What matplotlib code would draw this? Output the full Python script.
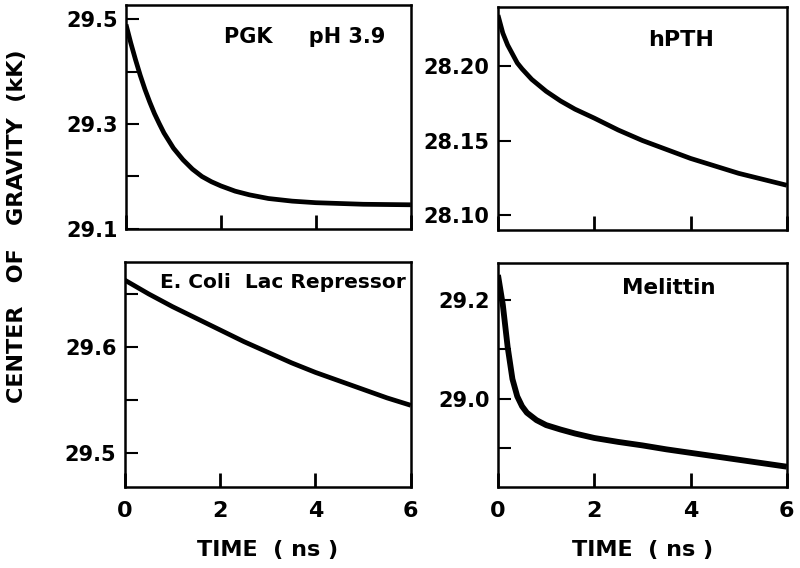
import matplotlib
matplotlib.use("Agg")
from matplotlib import pyplot as plt
from matplotlib.ticker import FixedLocator, NullFormatter, FormatStrFormatter

# PGK pH 3.9
t_pgk = [0, 0.1, 0.2, 0.3, 0.4, 0.5, 0.6, 0.7, 0.8, 1.0, 1.2, 1.4, 1.6, 1.8, 2.0,
         2.3, 2.6, 3.0, 3.5, 4.0, 5.0, 6.0]
cg_pgk = [29.49, 29.455, 29.423, 29.393, 29.366, 29.342, 29.320, 29.301, 29.283, 29.254,
          29.232, 29.214, 29.200, 29.190, 29.182, 29.172, 29.165, 29.158, 29.153, 29.150,
          29.147, 29.146]

# hPTH
t_hpth = [0, 0.1, 0.2, 0.3, 0.4, 0.5, 0.7, 1.0, 1.3, 1.6, 2.0, 2.5, 3.0, 3.5, 4.0,
          4.5, 5.0, 5.5, 6.0]
cg_hpth = [28.234, 28.222, 28.214, 28.208, 28.202, 28.198, 28.191, 28.183, 28.1765, 28.171,
           28.165, 28.157, 28.150, 28.144, 28.138, 28.133, 28.128, 28.124, 28.120]

# E. Coli Lac Repressor
t_lac = [0, 0.5, 1, 1.5, 2, 2.5, 3, 3.5, 4, 4.5, 5, 5.5, 6]
cg_lac = [29.663, 29.650, 29.638, 29.627, 29.616, 29.605, 29.595, 29.585, 29.576,
          29.568, 29.560, 29.552, 29.545]

# Melittin
t_mel = [0, 0.1, 0.2, 0.3, 0.4, 0.5, 0.6, 0.8, 1.0, 1.3, 1.6, 2.0, 2.5, 3.0, 3.5,
         4.0, 4.5, 5.0, 5.5, 6.0]
cg_mel = [29.25, 29.19, 29.105, 29.04, 29.005, 28.985, 28.972, 28.957, 28.947, 28.938,
          28.930, 28.921, 28.913, 28.906, 28.898, 28.891, 28.884, 28.877, 28.870, 28.863]

xticks = [0, 2, 4, 6]

panels = [
    # t, y, rect, ylim, major, minor, fmt, label, label pos, label size
    (t_pgk, cg_pgk, [0.1575, 0.597, 0.356, 0.394], (29.1, 29.527),
     [29.1, 29.3, 29.5], [29.2, 29.4], '%.1f', 'PGK     pH 3.9', (0.628, 0.857), 15),
    (t_hpth, cg_hpth, [0.6225, 0.595, 0.361, 0.393], (28.090, 28.2396),
     [28.10, 28.15, 28.20], [], '%.2f', 'hPTH', (0.633, 0.852), 16),
    (t_lac, cg_lac, [0.156, 0.1426, 0.3575, 0.396], (29.468, 29.680),
     [29.5, 29.6], [29.55, 29.65], '%.1f', 'E. Coli  Lac Repressor', (0.551, 0.907), 14.5),
    (t_mel, cg_mel, [0.6225, 0.1426, 0.361, 0.395], (28.822, 29.275),
     [29.0, 29.2], [28.9, 29.1], '%.1f', 'Melittin', (0.59, 0.888), 15.5),
]

fig = plt.figure(figsize=(8, 5.68), dpi=100)

for i, (t, y, rect, ylim, major, minor, fmt, label, lpos, lsize) in enumerate(panels):
    ax = fig.add_axes(rect)
    lw = 4.2 if i == 3 else 3.4
    ax.plot(t, y, color='black', linewidth=lw, solid_capstyle='butt')
    ax.set_xlim(0, 6)
    ax.set_ylim(*ylim)
    for s in ax.spines.values():
        s.set_linewidth(1.8)
    ax.yaxis.set_major_locator(FixedLocator(major))
    ax.yaxis.set_minor_locator(FixedLocator(minor))
    ax.yaxis.set_major_formatter(FormatStrFormatter(fmt))
    ax.yaxis.set_minor_formatter(NullFormatter())
    ax.set_xticks(xticks)
    ax.tick_params(axis='y', which='both', direction='in', length=9, width=1.5,
                   labelsize=15, pad=6)
    ax.tick_params(axis='x', direction='in', length=10, width=2, labelsize=16, pad=10)
    for lab in ax.get_xticklabels() + ax.get_yticklabels():
        lab.set_fontweight('bold')
    if i < 2:
        ax.tick_params(axis='x', labelbottom=False)
    else:
        ax.set_xlabel('TIME  ( ns )', fontsize=16, fontweight='bold', labelpad=14)
    ax.text(lpos[0], lpos[1], label, transform=ax.transAxes, ha='center', va='center',
            fontsize=lsize, fontweight='bold')

fig.text(0.021, 0.601, 'CENTER   OF   GRAVITY  (kK)', rotation=90, ha='center',
         va='center', fontsize=16, fontweight='bold')

fig.savefig('out.png', dpi=100)
